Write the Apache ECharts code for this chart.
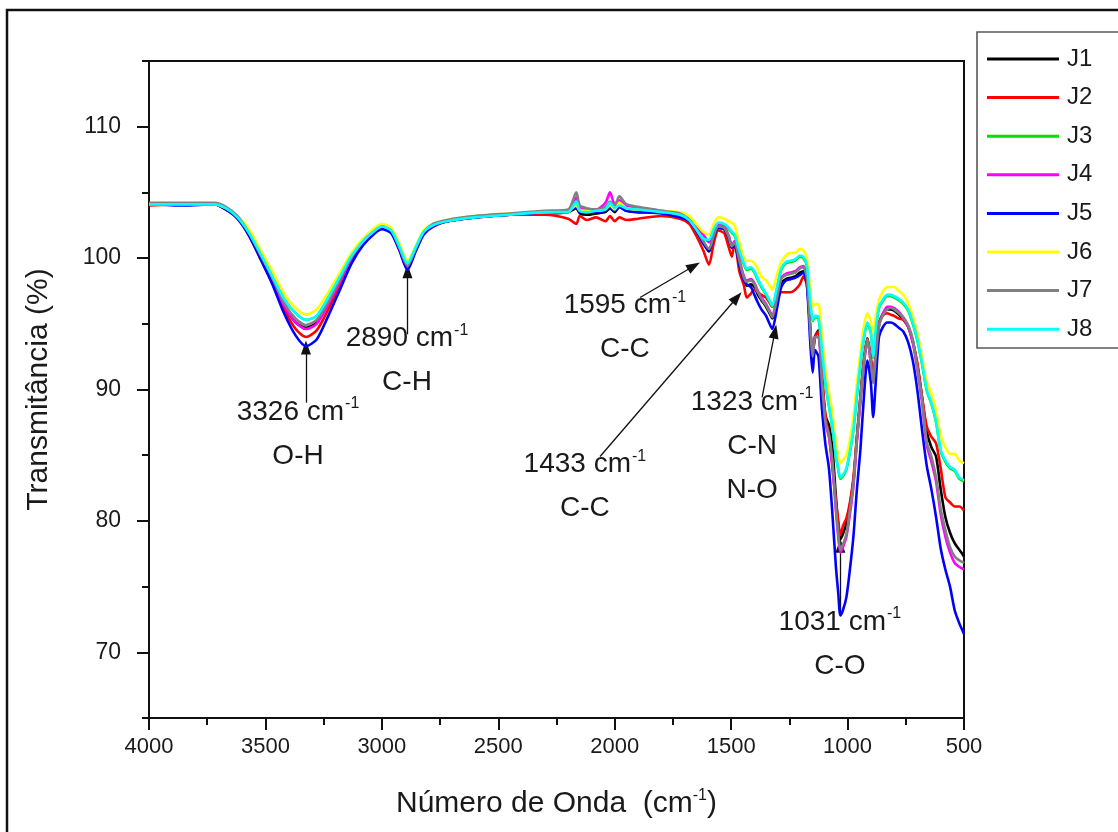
<!DOCTYPE html>
<html>
<head>
<meta charset="utf-8">
<script src="https://cdn.jsdelivr.net/npm/echarts@6/dist/echarts.min.js"></script>
<style>
  html, body { margin: 0; padding: 0; background: #ffffff; }
  #chart { width: 1118px; height: 832px; }
</style>
</head>
<body>
<div id="chart"></div>
<script>
// FTIR spectra of samples J1–J8: transmittance (%) against wavenumber (cm-1)
const wavenumbers = [
  4000,3850,3720,3670,3620,3570,3520,3470,3420,3370,
  3326,3280,3230,3180,3130,3080,3030,3000,2960,2925,
  2890,2855,2820,2780,2720,2600,2450,2300,2200,2165,
  2150,2120,2080,2040,2020,2000,1980,1950,1900,1800,
  1720,1680,1650,1620,1595,1575,1555,1530,1510,1497,
  1485,1465,1445,1433,1415,1400,1385,1370,1350,1335,
  1323,1305,1285,1265,1245,1225,1205,1190,1175,1160,
  1150,1140,1125,1110,1095,1080,1065,1050,1040,1031,
  1020,1005,990,975,960,945,930,915,900,890,
  880,865,850,830,815,800,780,760,740,720,
  700,680,660,640,620,600,580,560,540,520,
  500
];

const J1 = [
  104.1,104.1,104.1,103.7,103.1,101.8,100.1,98.3,96.4,95.1,
  94.7,95.1,96.5,98.2,99.9,101.2,102.0,102.3,102.0,100.7,
  99.3,100.6,101.9,102.5,102.8,103.1,103.3,103.4,103.5,103.8,
  103.4,103.3,103.4,103.5,103.8,103.5,103.9,103.6,103.5,103.5,
  103.3,102.9,102.1,101.2,100.5,101.6,102.3,102.2,101.5,100.8,
  101.1,99.6,98.3,97.9,98.0,97.8,97.2,96.8,96.3,95.8,
  95.4,96.6,98.1,98.4,98.5,98.6,98.9,99.0,98.4,94.6,
  92.6,94.0,94.5,91.0,88.0,87.3,85.5,81.8,79.8,78.6,
  79.0,79.8,81.2,83.0,86.3,89.4,92.2,93.9,92.3,90.6,
  92.5,95.0,95.7,96.1,96.1,96.0,95.7,95.3,94.8,93.7,
  91.8,89.4,86.8,85.6,84.9,82.4,80.3,79.1,78.3,77.8,
  77.3
];
const J2 = [
  104.0,104.1,104.1,103.7,103.0,101.7,99.9,98.1,96.1,94.6,
  94.0,94.5,96.1,97.9,99.8,101.1,102.0,102.3,102.0,100.7,
  99.2,100.6,101.9,102.4,102.8,103.1,103.3,103.3,103.0,102.6,
  103.2,102.9,103.1,102.8,103.2,102.8,103.1,102.9,103.0,103.2,
  103.0,102.6,101.7,100.6,99.5,101.1,102.1,101.9,100.8,100.1,
  101.2,99.0,97.9,97.0,97.3,97.6,97.4,97.2,97.0,96.6,
  96.3,96.8,97.4,97.4,97.4,97.6,98.0,98.6,98.0,94.5,
  92.6,94.0,94.4,91.0,88.0,86.5,84.0,81.5,80.0,78.9,
  79.6,80.2,81.4,83.3,86.4,89.4,92.2,93.9,92.4,90.6,
  92.5,95.0,95.6,95.8,95.7,95.6,95.4,95.3,94.8,93.6,
  92.0,89.4,87.2,86.4,85.9,84.0,81.8,81.4,81.1,81.1,
  80.8
];
const J3 = [
  104.1,104.1,104.1,103.8,103.1,101.9,100.3,98.6,96.9,95.8,
  95.3,95.6,97.0,98.6,100.2,101.3,102.1,102.4,102.1,100.9,
  99.6,100.8,102.0,102.5,102.8,103.1,103.3,103.5,103.5,104.3,
  103.6,103.5,103.6,103.7,104.2,103.8,104.0,103.8,103.7,103.5,
  103.3,102.9,102.2,101.5,101.3,102.1,102.6,102.5,102.2,101.9,
  101.7,100.5,99.5,99.1,99.2,98.9,98.3,97.8,97.2,96.7,
  96.3,97.5,99.1,99.6,99.7,99.8,100.1,100.0,99.4,96.5,
  95.2,95.5,95.4,92.9,90.4,88.7,87.1,84.9,83.9,83.2,
  83.4,83.9,85.2,86.9,89.5,91.9,93.9,95.0,94.3,92.4,
  94.4,96.2,96.7,97.1,97.1,97.0,96.8,96.5,96.0,95.0,
  93.7,91.9,89.9,88.9,87.5,85.3,84.5,84.0,83.8,83.2,
  83.0
];
const J4 = [
  104.1,104.1,104.1,103.8,103.1,101.8,100.1,98.3,96.4,95.1,
  94.6,95.0,96.5,98.2,99.9,101.2,102.0,102.3,102.0,100.7,
  99.3,100.6,101.9,102.5,102.8,103.1,103.3,103.5,103.6,104.6,
  103.9,103.7,103.7,104.2,105.0,104.1,104.4,104.0,103.8,103.6,
  103.4,103.0,102.4,101.8,101.2,101.8,102.5,102.4,101.7,101.0,
  101.3,99.9,98.6,98.3,98.4,98.1,97.5,97.0,96.5,96.0,
  95.6,96.9,98.5,98.8,98.9,99.0,99.3,99.4,98.5,94.5,
  92.5,94.0,94.0,90.5,87.4,86.4,84.3,80.8,78.8,77.6,
  78.0,78.8,80.5,82.6,86.0,89.0,91.8,93.8,92.0,90.5,
  92.3,94.9,95.7,96.3,96.3,96.2,95.9,95.4,94.8,93.6,
  91.5,89.0,85.8,84.5,83.0,80.5,78.8,77.6,76.8,76.5,
  76.3
];
const J5 = [
  104.1,104.0,104.1,103.7,103.0,101.7,99.9,98.0,95.8,94.1,
  93.3,93.8,95.6,97.6,99.6,101.0,101.9,102.2,101.9,100.6,
  99.1,100.5,101.8,102.4,102.8,103.1,103.3,103.5,103.6,103.9,
  103.5,103.5,103.5,103.6,103.8,103.6,103.9,103.6,103.5,103.4,
  103.1,102.8,102.1,101.1,100.6,101.6,102.3,102.2,101.5,100.8,
  101.0,99.5,98.3,98.0,97.8,97.2,96.6,96.1,95.6,95.0,
  94.6,96.0,97.8,98.3,98.4,98.5,98.7,98.9,98.0,93.5,
  91.3,93.0,92.5,88.5,85.8,84.0,80.5,76.5,74.5,72.8,
  73.2,74.2,76.3,78.8,82.4,85.4,89.4,92.2,90.5,87.9,
  90.3,94.0,94.7,95.1,95.1,95.0,94.7,94.4,93.6,92.2,
  89.9,86.9,84.2,82.4,80.3,77.9,76.3,75.0,73.2,72.2,
  71.4
];
const J6 = [
  104.1,104.1,104.1,103.8,103.2,102.2,100.6,99.0,97.3,96.2,
  95.7,96.1,97.4,98.9,100.4,101.5,102.3,102.6,102.3,101.1,
  99.8,100.9,102.1,102.6,102.9,103.2,103.4,103.5,103.6,104.0,
  103.6,103.6,103.6,103.7,104.0,103.7,104.2,103.8,103.7,103.6,
  103.5,103.2,102.6,102.0,101.8,102.6,103.1,103.0,102.8,102.7,
  102.5,101.2,100.0,99.8,99.8,99.6,99.2,98.6,98.3,97.9,
  97.6,98.6,99.7,100.2,100.4,100.4,100.7,100.6,100.0,97.5,
  96.3,96.5,96.5,94.0,91.5,89.8,88.2,86.0,85.0,84.4,
  84.6,85.0,86.2,87.9,90.5,92.8,94.8,95.8,95.2,93.8,
  95.5,96.8,97.4,97.8,97.8,97.8,97.5,97.2,96.6,95.6,
  94.3,92.5,90.6,89.7,88.4,86.5,85.6,85.1,85.1,84.6,
  84.4
];
const J7 = [
  104.2,104.2,104.2,103.9,103.2,101.9,100.2,98.5,96.6,95.4,
  94.9,95.3,96.7,98.4,100.1,101.3,102.1,102.4,102.1,100.8,
  99.4,100.7,102.0,102.6,102.9,103.2,103.4,103.6,103.7,105.0,
  104.0,103.8,103.7,103.9,104.3,104.0,104.7,104.1,103.9,103.6,
  103.4,102.9,102.2,101.3,100.7,101.7,102.4,102.3,101.6,100.9,
  101.2,99.8,98.5,98.2,98.3,98.0,97.4,96.9,96.4,95.9,
  95.5,96.8,98.4,98.7,98.8,98.9,99.2,99.3,98.5,94.5,
  92.5,94.0,94.0,90.5,87.5,86.6,84.5,81.0,79.0,77.8,
  78.2,79.0,80.8,82.8,86.2,89.2,92.0,93.8,92.0,90.5,
  92.3,94.8,95.6,96.1,96.2,96.1,95.8,95.5,94.9,93.8,
  91.6,89.2,86.0,84.9,83.3,80.9,79.3,78.0,77.3,77.0,
  76.8
];
const J8 = [
  104.1,104.1,104.1,103.8,103.1,101.9,100.3,98.6,96.9,95.8,
  95.3,95.6,97.0,98.6,100.2,101.3,102.1,102.4,102.1,100.9,
  99.6,100.8,102.0,102.5,102.8,103.1,103.3,103.5,103.5,104.3,
  103.6,103.5,103.6,103.7,104.2,103.8,104.0,103.8,103.7,103.5,
  103.3,102.9,102.2,101.5,101.4,102.2,102.7,102.6,102.3,102.0,
  101.8,100.6,99.6,99.2,99.3,99.0,98.4,97.9,97.3,96.8,
  96.4,97.6,99.2,99.7,99.8,99.9,100.2,100.1,99.5,96.6,
  95.3,95.6,95.5,93.0,90.5,88.8,87.2,85.0,84.0,83.3,
  83.5,84.0,85.3,87.0,89.6,92.0,94.0,95.1,94.4,92.5,
  94.5,96.3,96.8,97.2,97.2,97.1,96.9,96.6,96.1,95.1,
  93.8,92.0,90.0,89.0,87.6,85.4,84.6,84.1,83.9,83.3,
  83.1
];

const sampleNames = ['J1', 'J2', 'J3', 'J4', 'J5', 'J6', 'J7', 'J8'];
const sampleValues = [J1, J2, J3, J4, J5, J6, J7, J8];
const sampleColors = ['#000000', '#ff0000', '#00e000', '#ff00ff', '#0000ff', '#ffff00', '#808080', '#00ffff'];

const yMajorTicks = [70, 80, 90, 100, 110];
const yMinorTicks = [65, 75, 85, 95, 105, 115];

// band assignments: arrow from (w1,v1) to tip (w2,v2); label block anchored at first line centre
const bandNotes = [
  { wn: '3326', group: ['O-H'],        lw: 3360, lv: 88.3, w1: 3326, v1: 89.0, w2: 3326, v2: 93.2 },
  { wn: '2890', group: ['C-H'],        lw: 2892, lv: 93.9, w1: 2890, v1: 94.2, w2: 2890, v2: 99.0 },
  { wn: '1595', group: ['C-C'],        lw: 1956, lv: 96.4, w1: 1891, v1: 97.0, w2: 1660, v2: 99.4 },
  { wn: '1433', group: ['C-C'],        lw: 2128, lv: 84.3, w1: 2063, v1: 84.9, w2: 1475, v2: 97.0 },
  { wn: '1323', group: ['C-N', 'N-O'], lw: 1410, lv: 89.05, w1: 1367, v1: 89.4, w2: 1312, v2: 94.4 },
  { wn: '1031', group: ['C-O'],        lw: 1033, lv: 72.3, w1: 1031, v1: 73.0, w2: 1031, v2: 78.1 }
];

const FONT = '"Liberation Sans", Arial, Helvetica, sans-serif';
const TXT = '#1a1a1a';

const chart = echarts.init(document.getElementById('chart'), null, { renderer: 'canvas' });

const series = sampleNames.map((name, k) => ({
  name: name,
  type: 'line',
  data: wavenumbers.map((w, i) => [w, sampleValues[k][i]]),
  symbol: 'none',
  smooth: 0.25,
  color: sampleColors[k],
  lineStyle: { width: 2.6, color: sampleColors[k] },
  emphasis: { disabled: true },
  animation: false,
  z: 2 + k
}));

series.push({
  name: 'arrows',
  type: 'line',
  data: [],
  color: '#111111',
  animation: false,
  markLine: {
    silent: true,
    animation: false,
    symbol: ['none', 'triangle'],
    symbolSize: [10, 14],
    label: { show: false },
    lineStyle: { color: '#111111', width: 1.3, type: 'solid' },
    itemStyle: { color: '#111111' },
    emphasis: { disabled: true },
    data: bandNotes.map(n => [
      { coord: [n.w1, n.v1] },
      { coord: [n.w2, n.v2] }
    ])
  },
  z: 20
});

const option = {
  backgroundColor: '#ffffff',
  animation: false,
  grid: {
    left: 149, right: 154, top: 61, bottom: 114,
    show: true, borderColor: '#111111', borderWidth: 2,
    backgroundColor: 'transparent'
  },
  legend: {
    data: sampleNames,
    orient: 'vertical',
    left: 987,
    top: 47,
    padding: 0,
    icon: 'rect',
    itemWidth: 72,
    itemHeight: 3,
    itemGap: 14.6,
    selectedMode: false,
    textStyle: { fontFamily: FONT, fontSize: 24, color: TXT, padding: [0, 0, 0, 3], lineHeight: 24 }
  },
  xAxis: {
    type: 'value',
    inverse: true,
    min: 500,
    max: 4000,
    interval: 500,
    name: '{n|Número de Onda  (cm}{s|-1}{n|)}',
    nameLocation: 'middle',
    nameGap: 70,
    nameTextStyle: {
      rich: {
        n: { fontFamily: FONT, fontSize: 30, color: TXT },
        s: { fontFamily: FONT, fontSize: 16, color: TXT, verticalAlign: 'top', padding: [0, 0, 16, 0] }
      }
    },
    axisLine: { show: true, lineStyle: { color: '#111111', width: 2 } },
    axisTick: { show: true, inside: false, length: 12, lineStyle: { color: '#111111', width: 2 } },
    minorTick: { show: true, splitNumber: 2, length: 7, lineStyle: { color: '#111111', width: 2 } },
    axisLabel: {
      fontFamily: FONT, fontSize: 22, color: TXT, margin: 18,
      formatter: v => String(v)
    },
    splitLine: { show: false },
    minorSplitLine: { show: false }
  },
  yAxis: [
    {
      type: 'value',
      min: 65,
      max: 115,
      interval: 5,
      name: 'Transmitância (%)',
      nameLocation: 'middle',
      nameGap: 95,
      nameRotate: 90,
      nameTextStyle: { fontFamily: FONT, fontSize: 30, color: TXT },
      axisLine: { show: true, lineStyle: { color: '#111111', width: 2 } },
      axisTick: { show: true, inside: false, length: 12, customValues: yMajorTicks, lineStyle: { color: '#111111', width: 2 } },
      axisLabel: {
        fontFamily: FONT, fontSize: 23, color: TXT, margin: 28, customValues: yMajorTicks,
        formatter: v => String(v)
      },
      splitLine: { show: false }
    },
    {
      type: 'value',
      min: 65,
      max: 115,
      interval: 5,
      position: 'left',
      axisLine: { show: false },
      axisTick: { show: true, inside: false, length: 7, customValues: yMinorTicks, lineStyle: { color: '#111111', width: 2 } },
      axisLabel: { show: false },
      splitLine: { show: false }
    }
  ],
  series: series
};

chart.setOption(option);

// frame around the figure and the legend box
const frames = [
  {
    type: 'rect', silent: true, z: 100,
    shape: { x: 7, y: 10, width: 1140, height: 850 },
    style: { fill: 'none', stroke: '#111111', lineWidth: 2.5 }
  },
  {
    type: 'rect', silent: true, z: 100,
    shape: { x: 977, y: 32, width: 200, height: 316 },
    style: { fill: 'none', stroke: '#5a5a5a', lineWidth: 1.6 }
  }
];

// band labels placed at their wavenumber/transmittance positions
const labels = bandNotes.map(n => {
  const p = chart.convertToPixel({ xAxisIndex: 0, yAxisIndex: 0 }, [n.lw, n.lv]);
  const lines = ['{n|' + n.wn + ' cm}{s|-1}'].concat(n.group.map(g => '{n|' + g + '}'));
  return {
    type: 'text', silent: true, z: 50,
    x: p[0], y: p[1] - 22,
    style: {
      text: lines.join('\n'),
      align: 'center',
      verticalAlign: 'top',
      fill: TXT,
      rich: {
        n: { fontFamily: FONT, fontSize: 28, fill: TXT, lineHeight: 44 },
        s: { fontFamily: FONT, fontSize: 16, fill: TXT, lineHeight: 44, padding: [0, 0, 16, 1] }
      }
    }
  };
});

chart.setOption({ graphic: frames.concat(labels) });
</script>
</body>
</html>
